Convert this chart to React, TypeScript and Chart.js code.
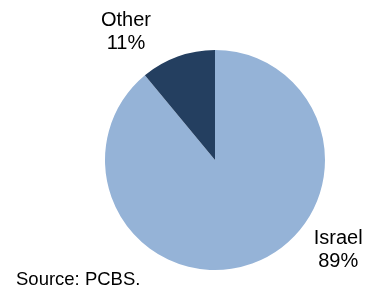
import React, { useEffect, useRef } from "react";
import { Chart, registerables } from "chart.js";

Chart.register(...registerables);

const categories = ["Israel", "Other"];
const values = [89, 11];
const colors = ["#95B3D7", "#243F60"];
const sourceText = "Source: PCBS.";

// label anchor offsets in units of the pie radius (center of label text)
const labelOffsets = [
  { dx: 1.12, dy: 0.8 },
  { dx: -0.81, dy: -1.18 },
];

const labelPlugin = {
  id: "pieLabels",
  afterDraw(chart: any) {
    const ctx = chart.ctx;
    const meta = chart.getDatasetMeta(0);
    ctx.save();
    ctx.fillStyle = "#000";
    ctx.textAlign = "center";
    ctx.textBaseline = "alphabetic";
    ctx.font = "20px 'Liberation Sans', Arial, sans-serif";
    meta.data.forEach((arc: any, i: number) => {
      const { x, y, outerRadius } = arc.getProps(["x", "y", "outerRadius"], true);
      const cx = x + labelOffsets[i].dx * outerRadius;
      const cy = y + labelOffsets[i].dy * outerRadius;
      ctx.fillText(categories[i], cx, cy - 4);
      ctx.fillText(values[i] + "%", cx, cy + 19);
    });
    ctx.textAlign = "left";
    ctx.font = "18.5px 'Liberation Sans', Arial, sans-serif";
    ctx.fillText(sourceText, 16, 285);
    ctx.restore();
  },
};

export default function App() {
  const ref = useRef<HTMLCanvasElement>(null);
  useEffect(() => {
    const chart = new Chart(ref.current!, {
      type: "pie",
      data: {
        labels: categories,
        datasets: [
          {
            data: values,
            backgroundColor: colors,
            borderWidth: 0,
          },
        ],
      },
      options: {
        responsive: false,
        animation: false,
        layout: { padding: { left: 105, right: 41, top: 50, bottom: 21 } },
        plugins: {
          legend: { display: false },
          tooltip: { enabled: false },
          title: { display: false },
        },
      },
      plugins: [labelPlugin],
    });
    return () => chart.destroy();
  }, []);
  return (
    <div style={{ position: "fixed", left: 0, top: 0, width: 366, height: 291, background: "#fff" }}>
      <canvas ref={ref} width={366} height={291} />
    </div>
  );
}
